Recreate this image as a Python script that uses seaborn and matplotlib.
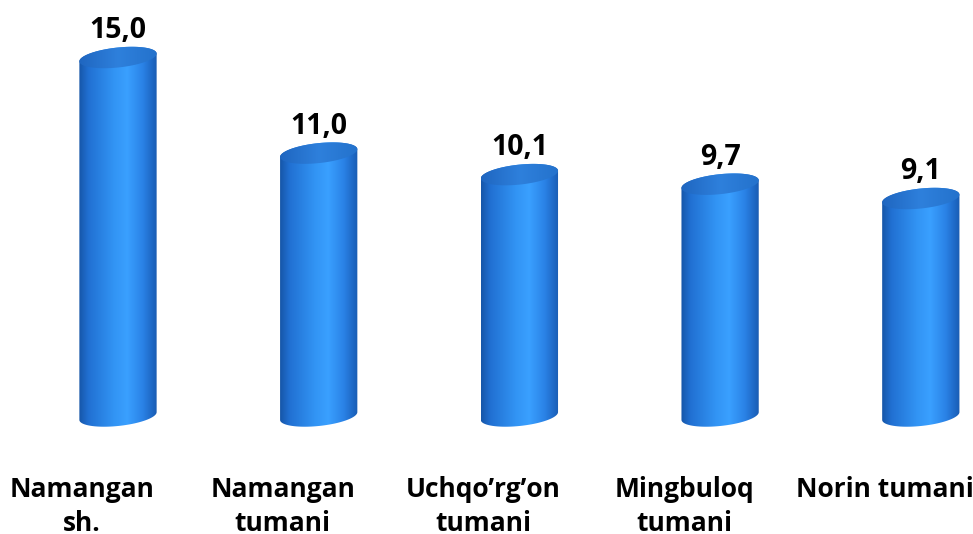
import numpy as np
import matplotlib
matplotlib.use("Agg")
import matplotlib.pyplot as plt
import matplotlib.transforms as mtransforms
from matplotlib.path import Path
from matplotlib.patches import PathPatch
from matplotlib.colors import LinearSegmentedColormap
import seaborn as sns

categories = ["Namangan\nsh.", "Namangan\ntumani", "Uchqo\u2019rg\u2019on\ntumani",
              "Mingbuloq\ntumani", "Norin tumani"]
values = [15.0, 11.0, 10.1, 9.7, 9.1]
value_labels = ["15,0", "11,0", "10,1", "9,7", "9,1"]

sns.set_style("white")
plt.rcParams["font.family"] = ["Open Sans", "DejaVu Sans"]

W, H = 973, 534
fig = plt.figure(figsize=(W / 100, H / 100), dpi=100)
ax = fig.add_axes([0, (H - 430) / H, 1, 430 / H])

sns.barplot(x=categories, y=values, width=0.385, color="#2a80e0", ax=ax)

# axis limits chosen so the layout lands where the reference has it
px_x = 200.7
px_y = 23.9
ax.set_xlim(-118 / px_x, (W - 118) / px_x)
ax.set_ylim(-14 / px_y, 416 / px_y)

body_cmap = LinearSegmentedColormap.from_list(
    "body", [(0.0, "#1656a8"), (0.12, "#2170d2"), (0.45, "#3294f4"),
             (0.62, "#3aa0ff"), (0.82, "#2a82e6"), (0.95, "#1d66c2"), (1.0, "#1a5cb2")])
top_cmap = LinearSegmentedColormap.from_list(
    "top", [(0.0, "#1f66c0"), (0.5, "#2e80dc"), (1.0, "#2472cc")])

b = 10 / px_y          # half height of the ellipse
k = 0.1 * px_x / px_y  # tilt of the ellipse
t_low = np.linspace(np.pi, 2 * np.pi, 60)
t_up = np.linspace(0, np.pi, 60)
t_all = np.linspace(0, 2 * np.pi, 120)
grad = np.linspace(0, 1, 256).reshape(1, -1)

for patch in ax.patches:
    x0 = patch.get_x()
    w = patch.get_width()
    v = patch.get_height()
    patch.set_visible(False)
    a = w / 2
    cx = x0 + a

    pts = [(cx - a, v - k * a), (cx - a, -k * a)]
    pts += [(cx + a * np.cos(t), b * np.sin(t) + k * a * np.cos(t)) for t in t_low]
    pts += [(cx + a, v + k * a)]
    pts += [(cx + a * np.cos(t), v + b * np.sin(t) + k * a * np.cos(t)) for t in t_up]
    body = PathPatch(Path(pts + [pts[0]]), facecolor="none", edgecolor="none")
    ax.add_patch(body)
    im = ax.imshow(grad, cmap=body_cmap, aspect="auto",
                   extent=(cx - a, cx + a, -b - k * a - 0.2, v + b + k * a + 0.2),
                   zorder=2)
    im.set_clip_path(body)

    top_pts = [(cx + a * np.cos(t), v + b * np.sin(t) + k * a * np.cos(t)) for t in t_all]
    top = PathPatch(Path(top_pts), facecolor="none", edgecolor="none")
    ax.add_patch(top)
    im2 = ax.imshow(grad, cmap=top_cmap, aspect="auto",
                    extent=(cx - a, cx + a, v - b - k * a - 0.2, v + b + k * a + 0.2),
                    zorder=3)
    im2.set_clip_path(top)

for i, (v, lab) in enumerate(zip(values, value_labels)):
    ax.annotate(lab, (i, v), xytext=(0, 14), textcoords="offset points",
                ha="center", va="baseline", fontsize=20.5, fontweight="bold",
                color="black", zorder=5)

for s in ax.spines.values():
    s.set_visible(False)
ax.set_yticks([])
ax.set_xticks([])
ax.set_xlabel("")

# category names below the bars, a little left of each bar centre, one line at a time
lab_tr = mtransforms.blended_transform_factory(ax.transData, fig.transFigure)
fig.canvas.draw()
renderer = fig.canvas.get_renderer()
for i, cat in enumerate(categories):
    for j, line in enumerate(cat.split("\n")):
        t = ax.text(i, (H - 497 - 34 * j) / H, line, ha="left", va="baseline",
                    fontsize=19, fontweight="bold", color="black", clip_on=False)
        tw = t.get_window_extent(renderer).width
        shift = mtransforms.ScaledTranslation((-36 - tw / 2) / 100, 0,
                                              fig.dpi_scale_trans)
        t.set_transform(lab_tr + shift)

fig.savefig("out.png", dpi=100)
